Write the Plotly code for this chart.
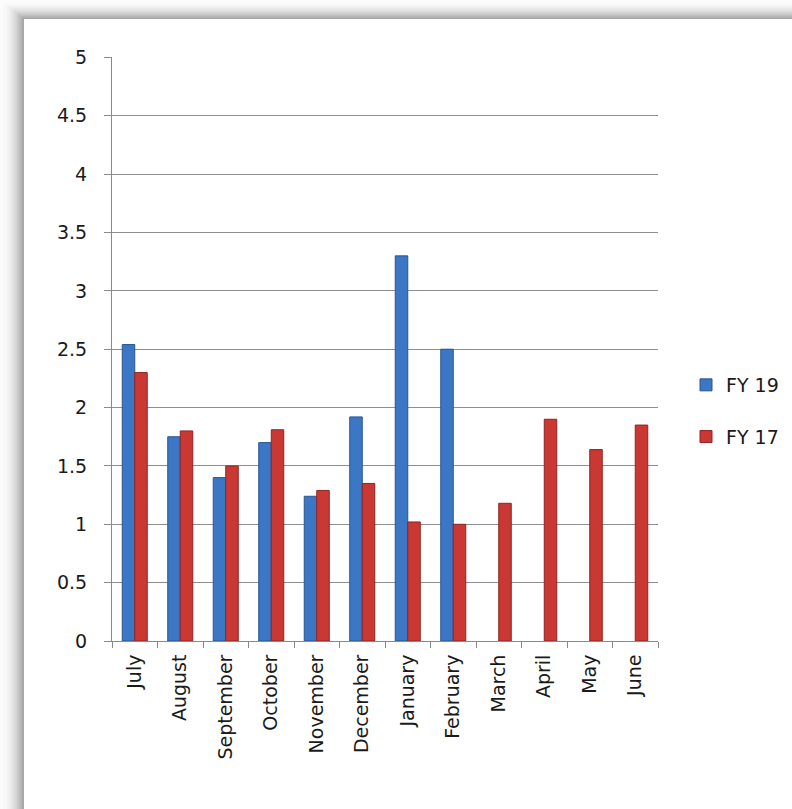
import plotly.graph_objects as go

months = ["July", "August", "September", "October", "November", "December",
          "January", "February", "March", "April", "May", "June"]
fy19 = [2.54, 1.75, 1.40, 1.70, 1.24, 1.92, 3.30, 2.50, None, None, None, None]
fy17 = [2.30, 1.80, 1.50, 1.81, 1.29, 1.35, 1.02, 1.00, 1.18, 1.90, 1.64, 1.85]
y_ticks = [0, 0.5, 1, 1.5, 2, 2.5, 3, 3.5, 4, 4.5, 5]

W, H = 792, 809
L, R, T, B = 112, 658, 57, 641

def px_x(p):
    return (p - L) / (R - L)

def px_y(p):
    return (B - p) / (B - T)

FONT = "DejaVu Sans, Verdana, sans-serif"

fig = go.Figure()
fig.add_trace(go.Bar(x=months, y=fy19, name="FY 19", legendgroup="a",
                     marker=dict(color="#3b77c5", line=dict(color="#2a5590", width=1))))
fig.add_trace(go.Bar(x=months, y=fy17, name="FY 17", legendgroup="b",
                     marker=dict(color="#c93833", line=dict(color="#8e2523", width=1))))

shapes = []
# soft shadow cast by the white card (left and top edges)
steps = 14
for k in range(steps):
    f = k / (steps - 1)
    lvl = int(252 - 85 * f ** 2)
    col = f"rgb({lvl},{lvl},{lvl})"
    dx = 24 * (1 - k / steps)
    dy = 19 * (1 - k / steps)
    shapes.append(dict(type="rect", xref="paper", yref="paper", layer="below",
                       x0=px_x(24 - dx), x1=px_x(W + 20),
                       y0=px_y(19 - dy), y1=px_y(H + 20),
                       fillcolor=col, line=dict(width=0)))
shapes.append(dict(type="rect", xref="paper", yref="paper", layer="below",
                   x0=px_x(24), x1=px_x(W + 20), y0=px_y(19), y1=px_y(H + 20),
                   fillcolor="white", line=dict(width=0)))

fig.update_layout(
    width=W, height=H,
    margin=dict(l=L, r=W - R, t=T, b=H - B, autoexpand=False),
    paper_bgcolor="white",
    plot_bgcolor="rgba(0,0,0,0)",
    barmode="group", bargap=0.45, bargroupgap=0.0,
    font=dict(family=FONT, size=19, color="#1a1a1a"),
    shapes=shapes,
    showlegend=True,
    legend=dict(x=px_x(686), y=px_y(411), xanchor="left", yanchor="middle",
                traceorder="grouped", tracegroupgap=24,
                font=dict(family=FONT, size=19, color="#1a1a1a"),
                bgcolor="rgba(0,0,0,0)"),
    xaxis=dict(showline=True, linecolor="#8a8a8a", linewidth=1,
               ticks="outside", ticklen=6, tickcolor="#8a8a8a", tickson="boundaries",
               tickangle=-90, showgrid=False, tickfont=dict(size=19),
               ticklabelstandoff=5),
    yaxis=dict(range=[0, 5.004], tickvals=y_ticks, ticktext=[f"{v:g}" for v in y_ticks],
               showline=True, linecolor="#8a8a8a", linewidth=1,
               ticks="outside", ticklen=7, tickcolor="#8a8a8a",
               showgrid=True, gridcolor="#8f8f8f", gridwidth=1,
               zeroline=False, tickfont=dict(size=19), ticklabelstandoff=13),
)

fig.write_html("out.html")
